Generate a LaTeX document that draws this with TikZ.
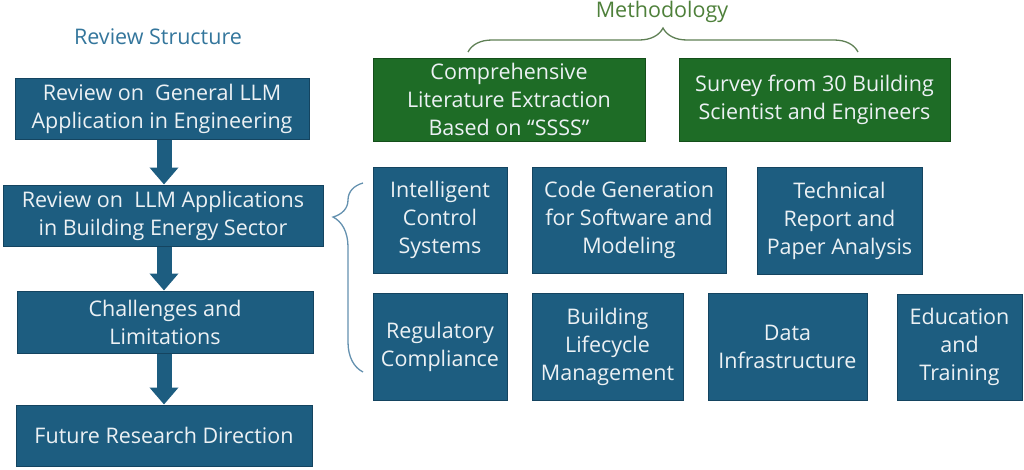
\documentclass[tikz,border=0pt]{standalone}
\usepackage{fontspec}
\setmainfont{Open Sans}
\usetikzlibrary{arrows.meta,decorations.pathreplacing}
\definecolor{boxblue}{RGB}{29,93,128}
\definecolor{boxblueedge}{RGB}{20,68,96}
\definecolor{boxgreen}{RGB}{30,108,38}
\definecolor{boxgreenedge}{RGB}{20,78,26}
\definecolor{titleblue}{RGB}{52,118,156}
\definecolor{titlegreen}{RGB}{78,128,58}
\definecolor{bracegreen}{RGB}{95,128,85}
\definecolor{braceblue}{RGB}{100,145,175}
\definecolor{txtcol}{RGB}{236,241,244}
\begin{document}
\begin{tikzpicture}[x=1pt,y=-1pt,
  boxbase/.style={line width=1pt, text=txtcol, align=center, inner sep=0pt,
    font=\fontsize{21.5}{28}\selectfont},
  bluebox/.style={boxbase, draw=boxblueedge, fill=boxblue},
  greenbox/.style={boxbase, draw=boxgreenedge, fill=boxgreen},
  flowarrow/.style={line width=15pt, draw=boxblue,
    -{Triangle[length=17pt,width=28pt]}},
  titletext/.style={font=\fontsize{21.5}{24}\selectfont, inner sep=0pt}
]
\useasboundingbox (0,0) rectangle (1024,469);

% titles
\node[titletext, text=titleblue] (rs) at (158,37) {Review Structure};
\node[titletext, text=titlegreen] (meth) at (662,12) {Methodology};

% left column
\node[bluebox, minimum width=294pt, minimum height=61pt] (b1) at (162,108.5)
  {Review on\ \ General LLM\\Application in Engineering};
\node[bluebox, minimum width=320pt, minimum height=61pt] (b2) at (163,215.5)
  {Review on\ \ LLM Applications\\in Building Energy Sector};
\node[bluebox, minimum width=296pt, minimum height=62pt] (b3) at (165,322)
  {Challenges and\\Limitations};
\node[bluebox, minimum width=296pt, minimum height=61pt] (b4) at (164,435.5)
  {Future Research Direction};

\coordinate (ax) at (164,0);
\draw[flowarrow] (b1.south -| ax) -- (b2.north -| ax);
\draw[flowarrow] (b2.south -| ax) -- (b3.north -| ax);
\draw[flowarrow] (b3.south -| ax) -- (b4.north -| ax);

% methodology
\node[greenbox, minimum width=272pt, minimum height=83pt] (g1) at (509,99.5)
  {Comprehensive\\Literature Extraction\\Based on “SSSS”};
\node[greenbox, minimum width=271pt, minimum height=83pt] (g2) at (814.5,99.5)
  {Survey from 30 Building\\Scientist and Engineers};

\coordinate (mL) at (468,52);
\coordinate (mR) at (858,52);
\draw[bracegreen, line width=1.3pt, decorate,
  decoration={brace, amplitude=24pt}] (mL) -- (mR);

% applications
\node[bluebox, minimum width=134pt, minimum height=106pt] (a1) at (440,220)
  {Intelligent\\Control\\Systems};
\node[bluebox, minimum width=194pt, minimum height=106pt] (a2) at (629,220)
  {Code Generation\\for Software and\\Modeling};
\node[bluebox, minimum width=165pt, minimum height=107pt] (a3) at (839.5,220.5)
  {Technical\\Report and\\Paper Analysis};
\node[bluebox, minimum width=134pt, minimum height=107pt] (a4) at (440,346.5)
  {Regulatory\\Compliance};
\node[bluebox, minimum width=151pt, minimum height=107pt] (a5) at (607.5,346.5)
  {Building\\Lifecycle\\Management};
\node[bluebox, minimum width=159pt, minimum height=107pt] (a6) at (787.5,346.5)
  {Data\\Infrastructure};
\node[bluebox, minimum width=125pt, minimum height=106pt] (a7) at (959.5,347)
  {Education\\and\\Training};

\coordinate (lbB) at (363,372);
\coordinate (lbT) at (363,183);
\draw[braceblue, line width=1.3pt, decorate,
  decoration={brace, amplitude=30pt, aspect=0.82}] (lbB) -- (lbT);
\end{tikzpicture}
\end{document}
